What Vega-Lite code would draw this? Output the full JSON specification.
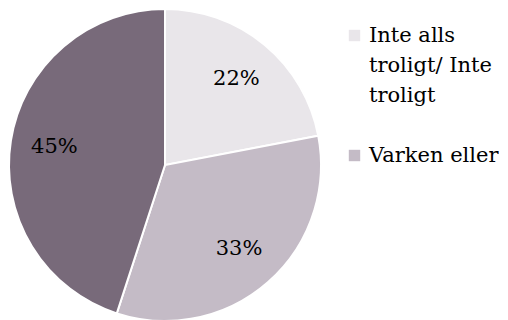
{
  "$schema": "https://vega.github.io/schema/vega-lite/v6.json",
  "width": 330,
  "height": 330,
  "padding": 0,
  "autosize": {"type": "pad"},
  "background": "white",
  "config": {"style": {"guide-label": {"lineHeight": 30}}},
  "data": {"values": [
    {"kategori": "Inte alls troligt/ Inte troligt", "andel": 22, "etikett": "22%", "ordning": 1},
    {"kategori": "Varken eller", "andel": 33, "etikett": "33%", "ordning": 2},
    {"kategori": "Troligt/ Mycket troligt", "andel": 45, "etikett": "45%", "ordning": 3}
  ]},
  "encoding": {
    "theta": {"field": "andel", "type": "quantitative", "stack": true},
    "order": {"field": "ordning", "type": "quantitative"}
  },
  "layer": [
    {
      "mark": {"type": "arc", "outerRadius": 156, "stroke": "white", "strokeWidth": 2},
      "encoding": {
        "color": {
          "field": "kategori", "type": "nominal",
          "scale": {"domain": ["Inte alls troligt/ Inte troligt", "Varken eller", "Troligt/ Mycket troligt"], "range": ["#E9E6EA", "#C4BBC6", "#786A7A"]},
          "legend": {
            "title": null,
            "orient": "none",
            "legendX": 344,
            "legendY": 25,
            "values": ["Inte alls troligt/ Inte troligt", "Varken eller"],
            "symbolType": "square",
            "symbolSize": 130,
            "symbolStrokeWidth": 0,
            "labelFont": "DejaVu Serif",
            "labelFontSize": 21,
            "labelColor": "#000000",
            "labelOffset": 4,
            "labelLimit": 200,
            "rowPadding": 38,
            "padding": 0,
            "labelExpr": "datum.label == 'Inte alls troligt/ Inte troligt' ? ['Inte alls', 'troligt/ Inte', 'troligt'] : datum.label"
          }
        }
      }
    },
    {
      "mark": {"type": "text", "radius": 112, "font": "DejaVu Serif", "fontSize": 21, "color": "#000000"},
      "encoding": {"text": {"field": "etikett"}}
    }
  ]
}
